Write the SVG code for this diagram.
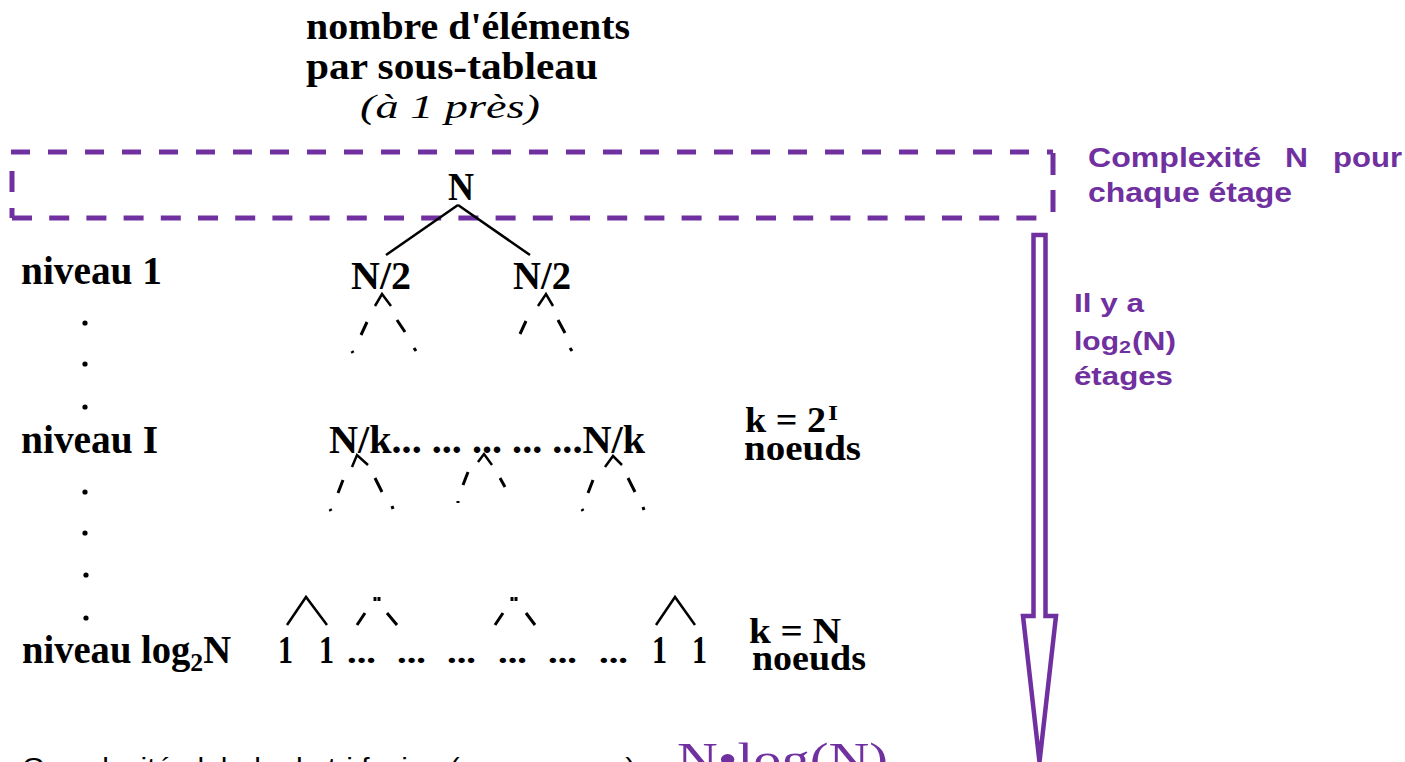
<svg xmlns="http://www.w3.org/2000/svg" width="1405" height="762" viewBox="0 0 1405 762">
<style>
.t{font-family:"Liberation Serif","Times New Roman",serif;font-weight:bold;fill:#000}
.ti{font-family:"Liberation Serif","Times New Roman",serif;font-style:italic;fill:#000}
.p{font-family:"Liberation Sans",Arial,sans-serif;font-weight:bold;fill:#7030A0}
.ln{stroke:#000;stroke-width:2.5;fill:none}
.dl{stroke:#000;stroke-width:3;fill:none}
.fr{stroke:#7030A0;stroke-width:5;fill:none}
</style>
<rect width="1405" height="762" fill="#fff"/>
<g id="title">
<text class="t" x="306" y="39" font-size="37" textLength="324" lengthAdjust="spacingAndGlyphs">nombre d'éléments</text>
<text class="t" x="306" y="79" font-size="37" textLength="292" lengthAdjust="spacingAndGlyphs">par sous-tableau</text>
<text class="ti" x="360" y="118" font-size="34" textLength="180" lengthAdjust="spacingAndGlyphs">(à 1 près)</text>
</g>
<g id="frame">
<path class="fr" d="M11,152 H1053" stroke-dasharray="19 18"/>
<path class="fr" d="M12,218 H1042" stroke-dasharray="20 17.2"/>
<path class="fr" d="M12,171 V192 M12,208 V218"/>
<path class="fr" d="M1053,153 V175 M1053,190 V212"/>
</g>
<g id="arrow">
<path d="M1033.5,235 H1045.5 V616 H1056 L1039.5,762 L1023,616 H1033.5 Z" fill="#fff" stroke="#7030A0" stroke-width="4.5"/>
</g>
<g id="note-complexite">
<text class="p" x="1088" y="167" font-size="27" textLength="173" lengthAdjust="spacingAndGlyphs">Complexité</text>
<text class="p" x="1285" y="167" font-size="27" textLength="23" lengthAdjust="spacingAndGlyphs">N</text>
<text class="p" x="1333" y="167" font-size="27" textLength="69" lengthAdjust="spacingAndGlyphs">pour</text>
<text class="p" x="1088" y="202" font-size="27" textLength="204" lengthAdjust="spacingAndGlyphs">chaque étage</text>
</g>
<g id="note-etages">
<text class="p" x="1074" y="312" font-size="26" textLength="70" lengthAdjust="spacingAndGlyphs">Il y a</text>
<text class="p" x="1074" y="350" font-size="26" textLength="45" lengthAdjust="spacingAndGlyphs">log</text>
<text class="p" x="1119" y="353" font-size="17" textLength="12" lengthAdjust="spacingAndGlyphs">2</text>
<text class="p" x="1132" y="350" font-size="26" textLength="44" lengthAdjust="spacingAndGlyphs">(N)</text>
<text class="p" x="1074" y="385" font-size="26" textLength="99" lengthAdjust="spacingAndGlyphs">étages</text>
</g>
<g id="levels">
<text class="t" x="21" y="284" font-size="40" textLength="141" lengthAdjust="spacingAndGlyphs">niveau 1</text>
<text class="t" x="21" y="453" font-size="40" textLength="137" lengthAdjust="spacingAndGlyphs">niveau I</text>
<text class="t" x="22" y="663" font-size="39" transform="translate(22,0) scale(0.99,1) translate(-22,0)">niveau log<tspan font-size="26" dy="8">2</tspan><tspan dy="-8">N</tspan></text>
<g fill="#000">
<circle cx="85" cy="323" r="2.6"/><circle cx="85" cy="364" r="2.6"/><circle cx="85" cy="407" r="2.6"/>
<circle cx="85" cy="492" r="2.6"/><circle cx="85" cy="533" r="2.6"/><circle cx="86" cy="575" r="2.6"/><circle cx="86" cy="618" r="2.6"/>
</g>
</g>
<g id="node-root">
<text class="t" x="448" y="200" font-size="40" textLength="26" lengthAdjust="spacingAndGlyphs">N</text>
</g>
<g id="node-n2-left">
<text class="t" x="351" y="289" font-size="39" textLength="60" lengthAdjust="spacingAndGlyphs">N/2</text>
</g>
<g id="node-n2-right">
<text class="t" x="513" y="289" font-size="39" textLength="58" lengthAdjust="spacingAndGlyphs">N/2</text>
</g>
<g id="node-level-I">
<text class="t" x="329" y="453" font-size="39" textLength="316" lengthAdjust="spacingAndGlyphs">N/k... ... ... ... ...N/k</text>
</g>
<g id="node-k-2I">
<text class="t" x="745" y="432" font-size="36" textLength="81" lengthAdjust="spacingAndGlyphs">k = 2</text>
<text class="t" x="828" y="420" font-size="22" textLength="10" lengthAdjust="spacingAndGlyphs">I</text>
<text class="t" x="744" y="460" font-size="36" textLength="117" lengthAdjust="spacingAndGlyphs">noeuds</text>
</g>
<g id="node-leaves">
<text class="t" x="278" y="663" font-size="40" textLength="15" lengthAdjust="spacingAndGlyphs">1</text>
<text class="t" x="319" y="663" font-size="40" textLength="15" lengthAdjust="spacingAndGlyphs">1</text>
<text class="t" x="347" y="663" font-size="32" textLength="29" lengthAdjust="spacingAndGlyphs">...</text>
<text class="t" x="397" y="663" font-size="32" textLength="29" lengthAdjust="spacingAndGlyphs">...</text>
<text class="t" x="447" y="663" font-size="32" textLength="29" lengthAdjust="spacingAndGlyphs">...</text>
<text class="t" x="498" y="663" font-size="32" textLength="29" lengthAdjust="spacingAndGlyphs">...</text>
<text class="t" x="548" y="663" font-size="32" textLength="29" lengthAdjust="spacingAndGlyphs">...</text>
<text class="t" x="599" y="663" font-size="32" textLength="29" lengthAdjust="spacingAndGlyphs">...</text>
<text class="t" x="652" y="663" font-size="40" textLength="15" lengthAdjust="spacingAndGlyphs">1</text>
<text class="t" x="692" y="663" font-size="40" textLength="15" lengthAdjust="spacingAndGlyphs">1</text>
</g>
<g id="node-k-N">
<text class="t" x="749" y="643" font-size="35" textLength="92" lengthAdjust="spacingAndGlyphs">k = N</text>
<text class="t" x="752" y="670" font-size="35" textLength="114" lengthAdjust="spacingAndGlyphs">noeuds</text>
</g>
<g id="connectors">
<path class="ln" d="M458,205 L386,255 M458,205 L530,255"/>
<path class="ln" d="M375,306 L382,294 L391,306 M538,306 L546,294 L553,306"/>
<path class="dl" d="M361,335 L367,322 M397,320 L405,332 M520,334 L526,321 M558,320 L565,333"/>
<path class="dl" d="M352,351 L353,353 M414,348 L416,351 M570,348 L572,351"/>
<path class="ln" d="M352,467 L357,455 L368,465 M605,467 L613,456 L622,465 M478,462 L484,454 L492,465"/>
<path class="dl" d="M338,493 L343,480 M375,478 L382,492 M463,485 L468,472 M500,478 L505,487 M588,493 L593,480 M628,478 L635,492"/>
<path class="dl" d="M330,509 L331,511 M392,506 L393,509 M458,501 L458,503 M582,509 L583,511 M643,507 L644,510"/>
<path class="ln" d="M287,625 L306,597 L327,625 M656,625 L675,597 L695,625"/>
<path class="dl" d="M357,625 L365,613 M387,613 L397,625 M495,625 L503,613 M526,613 L535,625"/>
<path class="dl" stroke-width="2" d="M375,597 V601 M379,597 V601 M512,597 V601 M516,597 V601"/>
</g>
<g id="footer">
<text x="22" y="776" font-family="Liberation Sans, Arial, sans-serif" font-size="25" fill="#000" textLength="630" lengthAdjust="spacingAndGlyphs">Complexité globale du tri fusion (en moyenne) :</text>
<text x="677" y="775" font-family="Liberation Serif, Times New Roman, serif" font-size="46" fill="#7030A0" textLength="211" lengthAdjust="spacingAndGlyphs">N•log(N)</text>
</g>
</svg>
